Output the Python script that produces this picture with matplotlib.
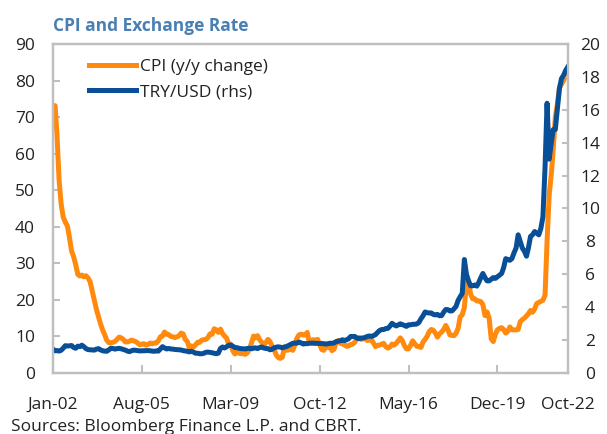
import pandas as pd
import matplotlib.pyplot as plt

plt.rcParams['font.family'] = ['Open Sans', 'DejaVu Sans']

# monthly, Jan-2002 .. Oct-2022
dates = pd.date_range('2002-01-01', periods=250, freq='MS')

cpi_02 = [73.2, 73.1, 65.1, 52.7, 46.2, 42.6, 41.3, 40.2, 37.0, 33.4, 31.8, 29.7]
cpi_03 = [27.0, 26.5, 26.8, 26.3, 26.6, 26.0, 25.0, 22.5, 20.0, 17.5, 15.5, 13.5]
cpi_04 = [11.8, 10.5, 9.0, 8.3, 8.2, 8.4, 8.6, 9.2, 9.8, 9.6, 9.2, 8.5]
cpi_05 = [8.5, 8.7, 9.0, 8.8, 8.6, 8.2, 7.7, 7.9, 8.0, 7.6, 7.8, 8.2]
cpi_06 = [8.0, 8.2, 8.2, 8.8, 9.9, 10.1, 11.2, 10.6, 10.5, 10.0, 9.9, 9.7]
cpi_07 = [9.9, 10.2, 10.9, 10.7, 9.2, 8.6, 6.9, 7.4, 7.1, 7.7, 8.4, 8.4]
cpi_08 = [9.0, 9.1, 9.2, 9.7, 10.7, 10.6, 12.1, 11.8, 11.1, 12.0, 10.8, 10.1]
cpi_09 = [9.5, 7.7, 7.9, 6.1, 5.2, 5.7, 5.4, 5.3, 5.3, 5.1, 5.5, 6.5]
cpi_10 = [8.2, 10.1, 9.6, 10.2, 9.1, 8.4, 7.6, 8.3, 9.2, 8.6, 7.3, 6.4]
cpi_11 = [4.9, 4.2, 4.0, 4.3, 7.2, 6.2, 6.3, 6.7, 6.2, 7.7, 9.5, 10.4]
cpi_12 = [10.6, 10.4, 10.4, 11.1, 8.3, 8.9, 9.1, 8.9, 9.2, 7.8, 6.4, 6.2]
cpi_13 = [7.3, 7.0, 7.3, 6.1, 6.5, 8.3, 8.9, 8.2, 7.9, 7.7, 7.3, 7.4]
cpi_14 = [7.8, 7.9, 8.4, 9.4, 9.7, 9.2, 9.3, 9.5, 8.9, 9.0, 9.2, 8.2]
cpi_15 = [7.2, 7.6, 7.6, 7.9, 8.1, 7.2, 6.8, 7.1, 7.9, 7.6, 8.1, 8.8]
cpi_16 = [9.6, 8.8, 7.5, 6.6, 6.6, 7.6, 8.8, 8.0, 7.3, 7.2, 7.0, 8.5]
cpi_17 = [9.2, 10.1, 11.3, 11.9, 11.7, 10.9, 9.8, 10.7, 11.2, 11.9, 13.0, 11.9]
cpi_18 = [10.4, 10.3, 10.2, 10.9, 12.2, 15.4, 15.9, 17.9, 24.5, 25.2, 21.6, 20.3]
cpi_19 = [20.3, 19.7, 19.7, 19.5, 18.7, 15.7, 16.7, 15.0, 9.3, 8.6, 10.6, 11.8]
cpi_20 = [12.2, 12.4, 11.9, 10.9, 11.4, 12.6, 11.8, 11.8, 11.8, 11.9, 14.0, 14.6]
cpi_21 = [15.0, 15.6, 16.2, 17.1, 16.6, 17.5, 19.0, 19.3, 19.6, 19.9, 21.3, 36.1]
cpi_22 = [48.7, 54.4, 61.1, 70.0, 73.5, 78.0, 79.0, 80.0, 81.5, 83.0]

fx_02 = [1.44, 1.35, 1.36, 1.33, 1.38, 1.51, 1.66, 1.64, 1.65, 1.67, 1.55, 1.50]
fx_03 = [1.63, 1.60, 1.69, 1.60, 1.48, 1.42, 1.41, 1.40, 1.39, 1.45, 1.48, 1.41]
fx_04 = [1.35, 1.33, 1.32, 1.40, 1.50, 1.49, 1.45, 1.48, 1.50, 1.47, 1.43, 1.39]
fx_05 = [1.33, 1.30, 1.35, 1.39, 1.38, 1.36, 1.34, 1.35, 1.35, 1.36, 1.36, 1.35]
fx_06 = [1.33, 1.32, 1.34, 1.33, 1.46, 1.60, 1.52, 1.46, 1.49, 1.46, 1.45, 1.43]
fx_07 = [1.42, 1.41, 1.40, 1.36, 1.34, 1.32, 1.28, 1.32, 1.27, 1.20, 1.20, 1.17]
fx_08 = [1.17, 1.20, 1.26, 1.27, 1.25, 1.23, 1.20, 1.17, 1.21, 1.49, 1.58, 1.52]
fx_09 = [1.60, 1.68, 1.70, 1.63, 1.55, 1.54, 1.50, 1.48, 1.47, 1.46, 1.49, 1.50]
fx_10 = [1.47, 1.51, 1.53, 1.48, 1.55, 1.58, 1.52, 1.49, 1.48, 1.41, 1.44, 1.53]
fx_11 = [1.57, 1.59, 1.57, 1.53, 1.57, 1.61, 1.67, 1.74, 1.80, 1.82, 1.81, 1.88]
fx_12 = [1.83, 1.76, 1.79, 1.78, 1.81, 1.81, 1.81, 1.80, 1.80, 1.79, 1.79, 1.78]
fx_13 = [1.76, 1.78, 1.81, 1.80, 1.83, 1.91, 1.93, 1.96, 2.02, 1.97, 2.02, 2.08]
fx_14 = [2.22, 2.22, 2.22, 2.12, 2.09, 2.12, 2.13, 2.16, 2.22, 2.25, 2.22, 2.27]
fx_15 = [2.33, 2.47, 2.58, 2.64, 2.64, 2.70, 2.71, 2.84, 3.02, 2.93, 2.86, 2.92]
fx_16 = [2.99, 2.94, 2.89, 2.83, 2.93, 2.93, 2.96, 2.96, 2.98, 3.07, 3.30, 3.48]
fx_17 = [3.71, 3.66, 3.65, 3.65, 3.56, 3.53, 3.56, 3.48, 3.49, 3.70, 3.86, 3.85]
fx_18 = [3.77, 3.78, 3.90, 4.05, 4.41, 4.64, 4.84, 6.90, 6.00, 5.60, 5.30, 5.30]
fx_19 = [5.35, 5.28, 5.50, 5.80, 6.05, 5.80, 5.60, 5.60, 5.70, 5.80, 5.75, 5.85]
fx_20 = [5.95, 6.05, 6.40, 6.95, 6.90, 6.85, 6.95, 7.30, 7.60, 8.40, 8.00, 7.60]
fx_21 = [7.40, 7.10, 7.60, 8.30, 8.40, 8.60, 8.50, 8.40, 8.80, 9.50, 12.5, 16.4]
fx_22 = [13.0, 14.0, 14.8, 14.8, 16.0, 17.3, 17.9, 18.1, 18.4, 18.6]

cpi = (cpi_02 + cpi_03 + cpi_04 + cpi_05 + cpi_06 + cpi_07 + cpi_08 + cpi_09
       + cpi_10 + cpi_11 + cpi_12 + cpi_13 + cpi_14 + cpi_15 + cpi_16
       + cpi_17 + cpi_18 + cpi_19 + cpi_20 + cpi_21 + cpi_22)
fx = (fx_02 + fx_03 + fx_04 + fx_05 + fx_06 + fx_07 + fx_08 + fx_09
      + fx_10 + fx_11 + fx_12 + fx_13 + fx_14 + fx_15 + fx_16
      + fx_17 + fx_18 + fx_19 + fx_20 + fx_21 + fx_22)

tick_idx = [0, 43, 86, 129, 172, 215, 249]

orange = '#ff8a0d'
blue = '#084f98'
grey = '#bfbfbf'
txt = '#222222'

fig = plt.figure(figsize=(6.07, 4.34), dpi=100)
ax = fig.add_axes([0.0873, 0.1406, 0.848, 0.758])
ax2 = ax.twinx()

l1, = ax.plot(dates, cpi, color=orange, lw=3.6, solid_joinstyle='round')
l2, = ax2.plot(dates, fx, color=blue, lw=3.6, solid_joinstyle='round')

ax.set_xlim(dates[0], dates[-1])
ax.set_ylim(0, 90)
ax2.set_ylim(0, 20)
ax.set_yticks(range(0, 91, 10))
ax2.set_yticks(range(0, 21, 2))
ax.set_xticks([dates[i] for i in tick_idx])
ax.set_xticklabels([dates[i].strftime('%b-%y') for i in tick_idx])

for a in (ax, ax2):
    for s in a.spines.values():
        s.set_color(grey)
        s.set_linewidth(1.6)
ax.tick_params(axis='y', direction='in', length=5, width=1.5, color=grey,
               labelsize=12.5, labelcolor=txt, pad=13)
ax.tick_params(axis='x', direction='in', length=5.5, width=1.5, color=grey,
               labelsize=12.5, labelcolor=txt, pad=17.5)
ax2.tick_params(axis='y', direction='in', length=4, width=1.5, color=grey,
                labelsize=12.5, labelcolor=txt, pad=16)
for lab in ax2.get_yticklabels():
    lab.set_horizontalalignment('center')

ax2.legend([l1, l2], ['CPI (y/y change)', 'TRY/USD (rhs)'], loc='upper left',
           bbox_to_anchor=(0.04, 1.003), frameon=False, fontsize=12.5,
           handlelength=2.7, handletextpad=0.2, labelspacing=0.55,
           labelcolor=txt)

fig.text(0.087, 1 - 31 / 434, 'CPI and Exchange Rate', color='#4a7fb3',
         fontsize=12.5, fontweight='bold', va='baseline', ha='left')
fig.text(0.018, 1 - 431 / 434, 'Sources: Bloomberg Finance L.P. and CBRT.',
         color=txt, fontsize=12.5, va='baseline', ha='left')

fig.savefig('out.png', dpi=100)
